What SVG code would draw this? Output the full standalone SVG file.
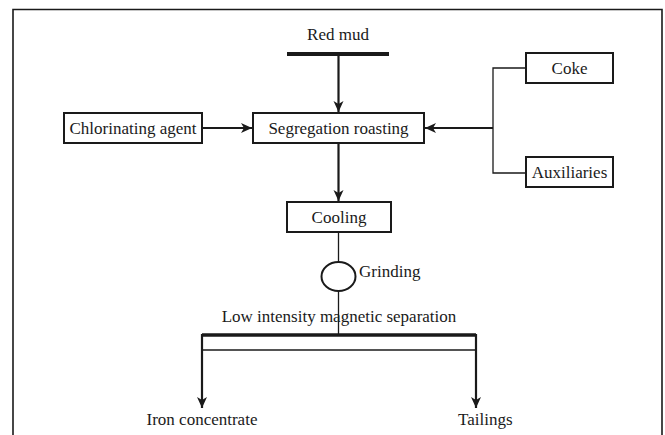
<svg xmlns="http://www.w3.org/2000/svg" width="665" height="435" viewBox="0 0 665 435">
<defs>
<marker id="ah" markerUnits="userSpaceOnUse" markerWidth="12" markerHeight="12" viewBox="0 0 12 12" refX="11" refY="6" orient="auto">
<path d="M0,1 L11,6 L0,11 L3,6 z" fill="#1a1a1a"/>
</marker>
<style>
text{font-family:"Liberation Serif","Times New Roman",serif;font-size:17px;fill:#1a1a1a}
.box{fill:#fff;stroke:#1a1a1a;stroke-width:2}
.thick{fill:none;stroke:#1a1a1a;stroke-width:2.2}
.thin{fill:none;stroke:#1a1a1a;stroke-width:1.3}
</style>
</defs>
<rect x="0" y="0" width="665" height="435" fill="#fff"/>
<path d="M13,440 V9.5 H662 V440" fill="none" stroke="#1a1a1a" stroke-width="1.6"/>
<g id="connectors">
<line x1="287" y1="54" x2="389" y2="54" stroke="#1a1a1a" stroke-width="4"/>
<line class="thick" x1="338.5" y1="54" x2="338.5" y2="112" marker-end="url(#ah)"/>
<line class="thick" x1="202" y1="128" x2="252" y2="128" marker-end="url(#ah)"/>
<line class="thick" x1="493" y1="128" x2="425" y2="128" marker-end="url(#ah)"/>
<path class="thin" d="M526,68 H493 V173 H526"/>
<line class="thick" x1="338.5" y1="143" x2="338.5" y2="201" marker-end="url(#ah)"/>
<line class="thin" x1="338.5" y1="232" x2="338.5" y2="262"/>
<line class="thin" x1="338.5" y1="291" x2="338.5" y2="335"/>
<line x1="202" y1="335" x2="476" y2="335" stroke="#1a1a1a" stroke-width="3.5"/>
<line class="thin" x1="202" y1="350" x2="476" y2="350"/>
<line class="thick" x1="202" y1="334" x2="202" y2="408" marker-end="url(#ah)"/>
<line class="thick" x1="476" y1="334" x2="476" y2="408" marker-end="url(#ah)"/>
</g>
<g id="red-mud"><text x="338" y="40" text-anchor="middle">Red mud</text></g>
<g id="segregation-roasting">
<rect class="box" x="253" y="113" width="171" height="30"/>
<text x="338.5" y="134" text-anchor="middle">Segregation roasting</text>
</g>
<g id="chlorinating-agent">
<rect class="box" x="64" y="113" width="138" height="30"/>
<text x="133" y="134" text-anchor="middle">Chlorinating agent</text>
</g>
<g id="coke">
<rect class="box" x="526" y="53" width="87" height="30"/>
<text x="569.5" y="74" text-anchor="middle">Coke</text>
</g>
<g id="auxiliaries">
<rect class="box" x="526" y="157" width="87" height="30"/>
<text x="569.5" y="178" text-anchor="middle">Auxiliaries</text>
</g>
<g id="cooling">
<rect class="box" x="287" y="202" width="104" height="30"/>
<text x="339" y="223" text-anchor="middle">Cooling</text>
</g>
<g id="grinding">
<ellipse cx="338.5" cy="276.5" rx="17" ry="14.5" fill="#fff" stroke="#1a1a1a" stroke-width="2"/>
<text x="359" y="277">Grinding</text>
</g>
<g id="magnetic-separation">
<text x="339" y="322" text-anchor="middle">Low intensity magnetic separation</text>
</g>
<g id="iron-concentrate"><text x="202" y="425" text-anchor="middle">Iron concentrate</text></g>
<g id="tailings"><text x="458" y="425">Tailings</text></g>
</svg>
